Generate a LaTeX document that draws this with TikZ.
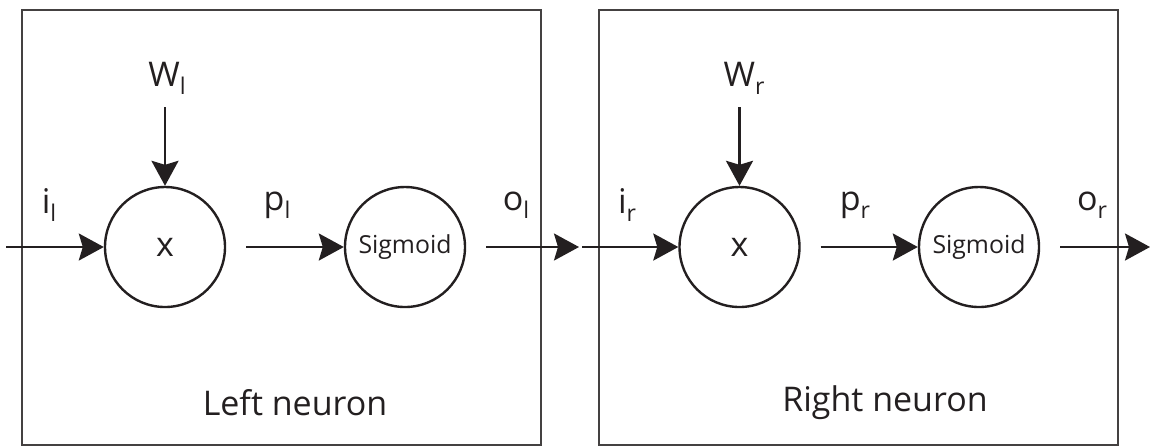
\documentclass[tikz,border=0pt]{standalone}
\usepackage{fontspec}
\setmainfont{Open Sans}
\usetikzlibrary{positioning,arrows.meta}
\definecolor{ink}{RGB}{35,31,32}
\newcommand{\lsub}[1]{\raisebox{-4pt}{\fontsize{11.5}{12}\selectfont #1}}
\tikzset{
  unit/.style={circle,draw=ink,line width=1.2pt,minimum size=60pt,inner sep=0pt},
  frame/.style={draw=ink!85,line width=1.1pt,minimum width=259.5pt,minimum height=217.5pt,inner sep=0pt},
  lab/.style={font=\fontsize{17}{19}\selectfont,text=ink},
  small/.style={font=\fontsize{12.4}{14}\selectfont,text=ink},
  wire/.style={draw=ink,line width=1.2pt,-{Stealth[length=12.5pt,width=13.5pt,inset=2pt]}},
  gap/.style={shorten <=10pt}
}
\begin{document}
\begin{tikzpicture}[x=0.5pt,y=-0.5pt]
  \useasboundingbox (0,0) rectangle (1151,447);
  % frames
  \node[frame] (boxL) at (281.5,227.5) {};
  \node[frame] (boxR) at (858.5,227.5) {};
  % left neuron
  \node[unit,lab] (mulL) at (165,247) {x};
  \node[unit,small] (sigL) at (405,247) {Sigmoid};
  \node[lab] (wL) at (167,78) {W\lsub{l}};
  \node[lab] (iL) at (49,205) {i\lsub{l}};
  \node[lab] (pL) at (277,205) {p\lsub{l}};
  \node[lab] (oL) at (516,205) {o\lsub{l}};
  \node[lab] (nameL) at (295,403) {Left neuron};
  \coordinate (inL) at (6,247);
  \coordinate (outL) at (579,247);
  \draw[wire] (inL) -- (mulL);
  \draw[wire,shorten <=3pt] (mulL |- wL.south) -- (mulL.north);
  \draw[wire,gap] (mulL) -- (sigL);
  \draw[wire,gap] (sigL) -- (outL);
  % right neuron
  \node[unit,lab] (mulR) at (739.5,247) {x};
  \node[unit,small] (sigR) at (979,247) {Sigmoid};
  \node[lab] (wR) at (744,78) {W\lsub{r}};
  \node[lab] (iR) at (627,205) {i\lsub{r}};
  \node[lab] (pR) at (855,205) {p\lsub{r}};
  \node[lab] (oR) at (1092,205) {o\lsub{r}};
  \node[lab] (nameR) at (885,403) {Right neuron};
  \coordinate (inR) at (582,247);
  \coordinate (outR) at (1150,247);
  \draw[wire] (inR) -- (mulR);
  \draw[wire,shorten <=3pt] (mulR |- wR.south) -- (mulR.north);
  \draw[wire,gap] (mulR) -- (sigR);
  \draw[wire,gap] (sigR) -- (outR);
\end{tikzpicture}
\end{document}
